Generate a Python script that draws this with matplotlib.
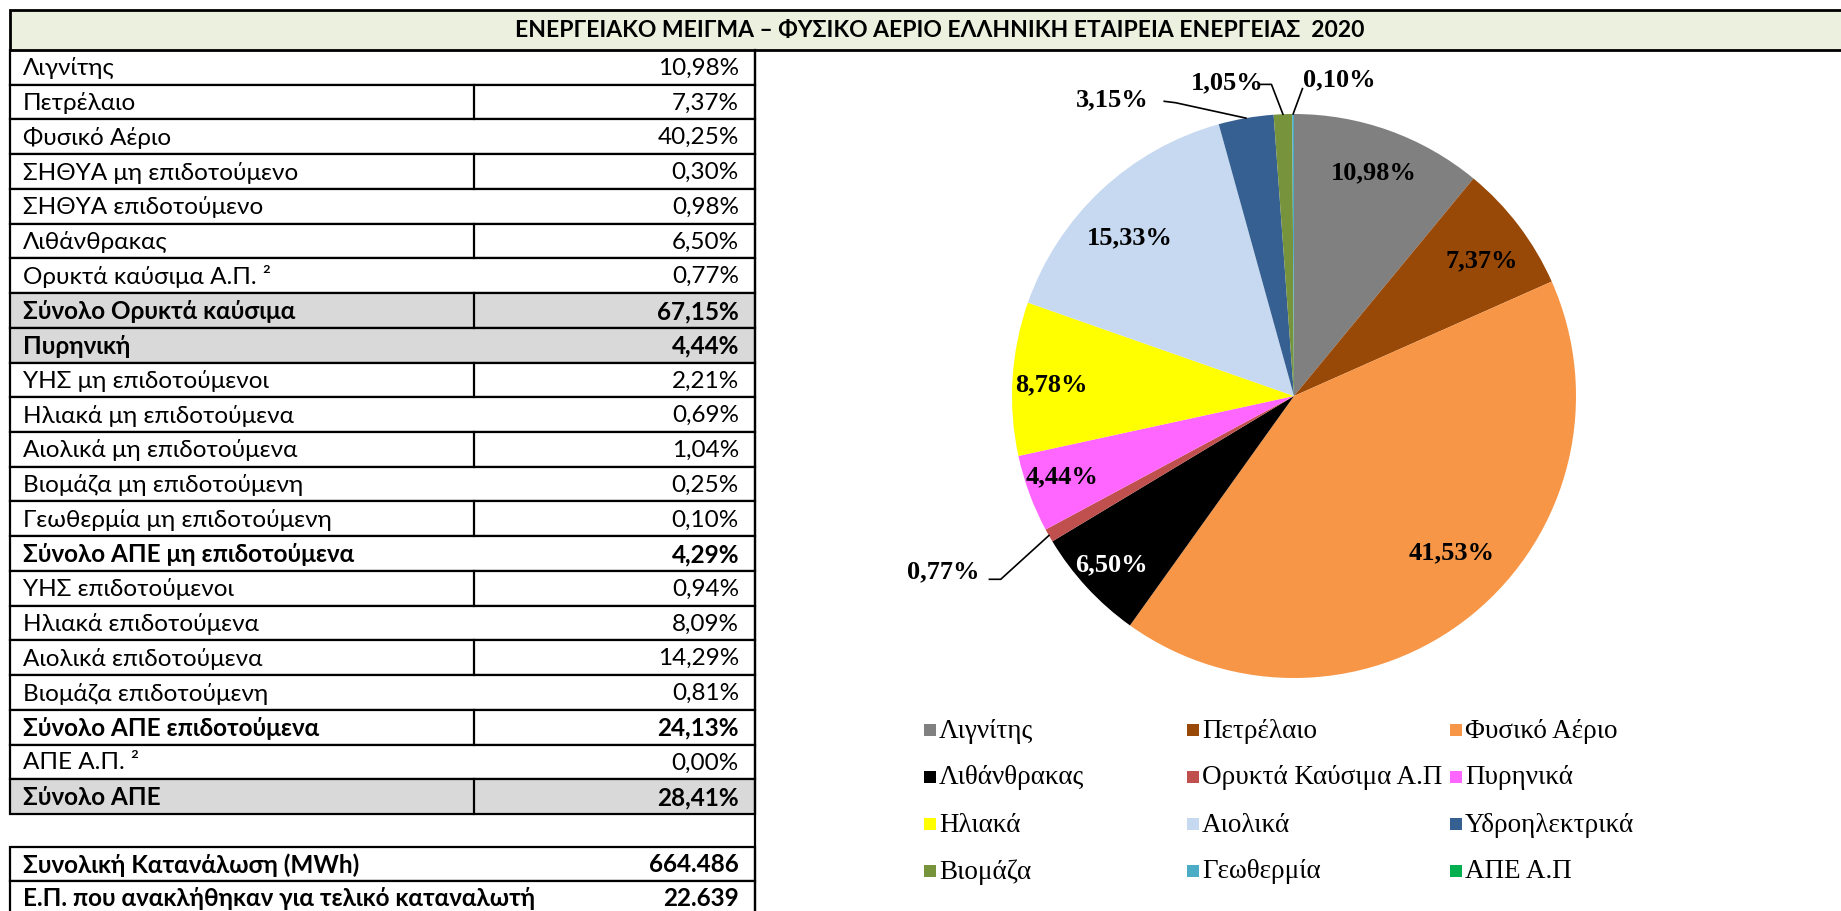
import numpy as np
import matplotlib
matplotlib.use("Agg")
import matplotlib.pyplot as plt
from matplotlib.patches import Rectangle
from matplotlib import font_manager as fm
from matplotlib.ft2font import FT2Font

# ---------------- data ----------------
title = "ΕΝΕΡΓΕΙΑΚΟ ΜΕΙΓΜΑ – ΦΥΣΙΚΟ ΑΕΡΙΟ ΕΛΛΗΝΙΚΗ ΕΤΑΙΡΕΙΑ ΕΝΕΡΓΕΙΑΣ  2020"

table_labels = [
    "Λιγνίτης", "Πετρέλαιο", "Φυσικό Αέριο", "ΣΗΘΥΑ μη επιδοτούμενο",
    "ΣΗΘΥΑ επιδοτούμενο", "Λιθάνθρακας", "Ορυκτά καύσιμα Α.Π. ²",
    "Σύνολο Ορυκτά καύσιμα", "Πυρηνική", "ΥΗΣ μη επιδοτούμενοι",
    "Ηλιακά μη επιδοτούμενα", "Αιολικά μη επιδοτούμενα", "Βιομάζα μη επιδοτούμενη",
    "Γεωθερμία μη επιδοτούμενη", "Σύνολο ΑΠΕ μη επιδοτούμενα", "ΥΗΣ επιδοτούμενοι",
    "Ηλιακά επιδοτούμενα", "Αιολικά επιδοτούμενα", "Βιομάζα επιδοτούμενη",
    "Σύνολο ΑΠΕ επιδοτούμενα", "ΑΠΕ Α.Π. ²", "Σύνολο ΑΠΕ",
]
table_values = [10.98, 7.37, 40.25, 0.30, 0.98, 6.50, 0.77, 67.15, 4.44, 2.21,
                0.69, 1.04, 0.25, 0.10, 4.29, 0.94, 8.09, 14.29, 0.81, 24.13,
                0.00, 28.41]
bold_rows = [7, 8, 14, 19, 21]
gray_rows = [7, 8, 21]

summary_labels = ["Συνολική Κατανάλωση (MWh)",
                  "Ε.Π. που ανακλήθηκαν για τελικό καταναλωτή"]
summary_values = [664486, 22639]

pie_labels = ["Λιγνίτης", "Πετρέλαιο", "Φυσικό Αέριο", "Λιθάνθρακας",
              "Ορυκτά Καύσιμα Α.Π", "Πυρηνικά", "Ηλιακά", "Αιολικά",
              "Υδροηλεκτρικά", "Βιομάζα", "Γεωθερμία", "ΑΠΕ Α.Π"]
pie_values = [10.98, 7.37, 41.53, 6.50, 0.77, 4.44, 8.78, 15.33,
              3.15, 1.05, 0.10, 0.00]
pie_colors = ["#808080", "#984807", "#F79646", "#000000", "#C0504D", "#FF66FF",
              "#FFFF00", "#C6D9F1", "#376092", "#77933C", "#4BACC6", "#00B050"]

# ---------------- fonts ----------------
def has_greek(name):
    for f in fm.fontManager.ttflist:
        if f.name == name:
            try:
                cm = FT2Font(f.fname).get_charmap()
                if ord("λ") in cm and ord("Σ") in cm:
                    return True
            except Exception:
                pass
    return False

SANS = next((n for n in ["Lato", "Roboto", "Liberation Sans"] if has_greek(n)), "DejaVu Sans")
SERIF = next((n for n in ["Liberation Serif", "DejaVu Serif"] if has_greek(n)), "DejaVu Serif")

# ---------------- figure ----------------
W, H = 1841, 911
fig = plt.figure(figsize=(W / 100, H / 100), dpi=100)
fig.patch.set_facecolor("white")
ax = fig.add_axes([0, 0, 1, 1])
ax.set_xlim(0, W)
ax.set_ylim(H, 0)
ax.axis("off")

LW = 1.6
# title bar
ax.add_patch(Rectangle((10, 9.5), W, 40.5, facecolor="#EBF1DE",
                       edgecolor="black", lw=LW + 0.4, zorder=2))
ax.text(940, 30, title, ha="center", va="center", fontsize=16.5,
        fontweight="bold", family=[SANS, "DejaVu Sans"], zorder=3)

X_L, X_M, X_R = 10, 474, 755
Y0, RH = 50, 34.73
TXT_X, VAL_X = 23, 739
FS = 17.5


def pct(v):
    return f"{v:.2f}".replace(".", ",") + "%"


for i, (lab, val) in enumerate(zip(table_labels, table_values)):
    y = Y0 + i * RH
    fc = "#D9D9D9" if i in gray_rows else "white"
    ax.add_patch(Rectangle((X_L, y), X_R - X_L, RH, facecolor=fc,
                           edgecolor="black", lw=LW, zorder=1))
    if i % 2 == 1:
        ax.plot([X_M, X_M], [y, y + RH], color="black", lw=LW, zorder=2)
    fw = "bold" if i in bold_rows else "normal"
    ax.text(TXT_X, y + RH / 2 + 1, lab, ha="left", va="center", fontsize=FS,
            fontweight=fw, family=[SANS, "DejaVu Sans"], zorder=3)
    ax.text(VAL_X, y + RH / 2 + 1, pct(val), ha="right", va="center",
            fontsize=FS, fontweight=fw, family=[SANS, "DejaVu Sans"], zorder=3)

# right border running down
ax.plot([X_R, X_R], [Y0, H], color="black", lw=LW, zorder=2)

# summary table
Y1, RH2 = 847, 34
for i, (lab, val) in enumerate(zip(summary_labels, summary_values)):
    y = Y1 + i * RH2
    ax.add_patch(Rectangle((X_L, y), X_R - X_L, RH2, facecolor="white",
                           edgecolor="black", lw=LW, zorder=1))
    ax.text(TXT_X, y + RH2 / 2 + 1, lab, ha="left", va="center", fontsize=FS,
            fontweight="bold", family=[SANS, "DejaVu Sans"], zorder=3)
    ax.text(VAL_X, y + RH2 / 2 + 1, f"{val:,}".replace(",", "."), ha="right",
            va="center", fontsize=FS, fontweight="bold",
            family=[SANS, "DejaVu Sans"], zorder=3)

# ---------------- pie ----------------
CX, CY, R = 1294, 396, 282
pax = fig.add_axes([(CX - R) / W, (H - CY - R) / H, 2 * R / W, 2 * R / H])
wedges, _ = pax.pie(pie_values, colors=pie_colors, startangle=90,
                    counterclock=False, radius=1,
                    wedgeprops=dict(linewidth=0))
pax.set_xlim(-1, 1)
pax.set_ylim(-1, 1)
pax.set_aspect("equal")
pax.axis("off")

# per-label placement style: (radial fraction, angular nudge in degrees, ccw +)
inside_style = {"Λιθάνθρακας": (0.88, 0), "Φυσικό Αέριο": (0.79, 6),
                "Πυρηνικά": (0.87, -1), "Ηλιακά": (0.86, 1),
                "Αιολικά": (0.81, 3), "Πετρέλαιο": (0.82, -1.5)}
white_text = {"Λιθάνθρακας"}
# outside labels: (label centre, elbow start, elbow end) in pie units
outside = {
    "Υδροηλεκτρικά": ((-0.645, 1.05), (-0.46, 1.045), (-0.42, 1.04)),
    "Βιομάζα": ((-0.235, 1.11), (-0.12, 1.105), (-0.08, 1.105)),
    "Γεωθερμία": ((0.16, 1.12), (0.03, 1.09), (0.03, 1.09)),
    "Ορυκτά Καύσιμα Α.Π": ((-1.245, -0.625), (-1.08, -0.65), (-1.04, -0.65)),
}
LFS = 19
for w, lab, val in zip(wedges, pie_labels, pie_values):
    if val <= 0:
        continue
    mid_deg = (w.theta1 + w.theta2) / 2
    mid = np.deg2rad(mid_deg)
    ux, uy = np.cos(mid), np.sin(mid)
    txt = pct(val)
    if lab in outside:
        (lx, ly), (sx, sy), (ex, ey) = outside[lab]
        pax.text(lx, ly, txt, ha="center", va="center", fontsize=LFS,
                 fontweight="bold", family=SERIF, clip_on=False)
        pax.plot([sx, ex, ux], [sy, ey, uy], color="black", lw=1.2,
                 clip_on=False)
    else:
        d, nudge = inside_style.get(lab, (0.84, 0))
        a = np.deg2rad(mid_deg + nudge)
        pax.text(d * np.cos(a), d * np.sin(a), txt, ha="center", va="center",
                 fontsize=LFS, fontweight="bold", family=SERIF,
                 color="white" if lab in white_text else "black")

# ---------------- legend (3 columns, row-major like Excel) ----------------
LX0, LDX = 924, 263
LY0, LDY = 730, 47
SQ = 12
for i, (lab, col) in enumerate(zip(pie_labels, pie_colors)):
    r, c = divmod(i, 3)
    x = LX0 + c * LDX
    y = LY0 + r * LDY
    ax.add_patch(Rectangle((x, y - SQ / 2), SQ, SQ, facecolor=col,
                           edgecolor="none", zorder=3))
    ax.text(x + SQ + 3, y + 1, lab, ha="left", va="center", fontsize=19.5,
            family=SERIF, zorder=3)

fig.savefig("out.png", dpi=100, facecolor="white")
